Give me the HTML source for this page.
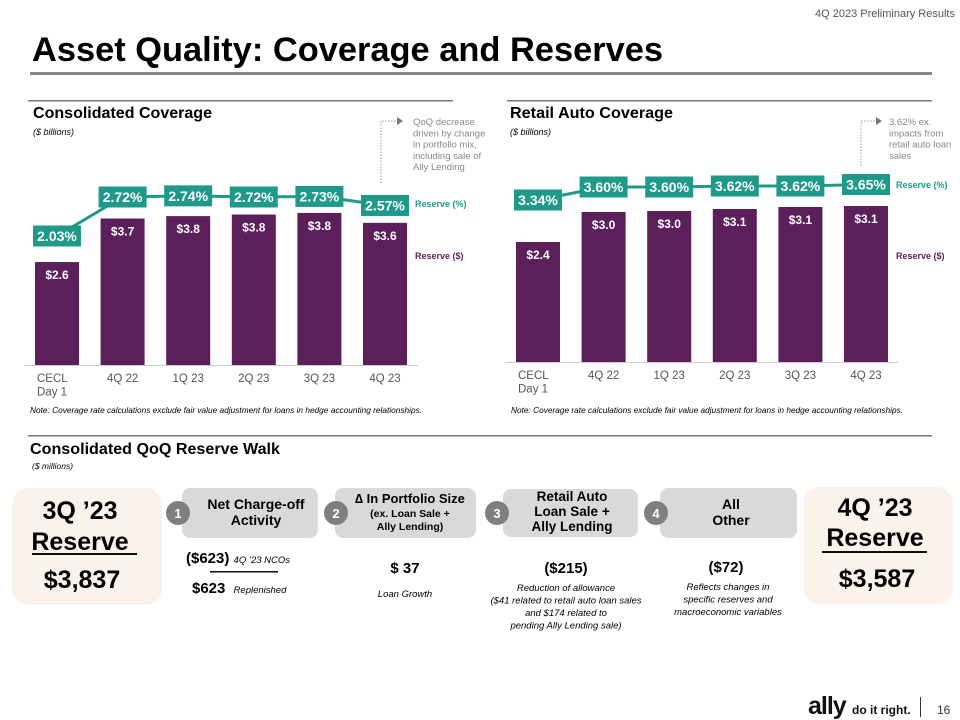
<!DOCTYPE html>
<html><head><meta charset="utf-8"><style>
body{margin:0;width:960px;height:720px;background:#fff;overflow:hidden;font-family:"Liberation Sans",sans-serif}
svg{display:block}
</style></head><body>
<svg width="960" height="720" viewBox="0 0 960 720" font-family="Liberation Sans, sans-serif">
<text x="955" y="17" font-size="11" fill="#555" text-anchor="end">4Q 2023 Preliminary Results</text>
<text x="32" y="61" font-size="34" font-weight="bold" fill="#000" textLength="631" lengthAdjust="spacingAndGlyphs">Asset Quality: Coverage and Reserves</text>
<rect x="30" y="72" width="902" height="3" fill="#888"/>
<rect x="28" y="100" width="425" height="1.5" fill="#777"/>
<rect x="507" y="100" width="425" height="1.5" fill="#777"/>
<text x="33" y="118" font-size="16" font-weight="bold" textLength="179" lengthAdjust="spacingAndGlyphs">Consolidated Coverage</text>
<text x="33" y="135" font-size="9" font-style="italic">($ billions)</text>
<text x="510" y="118" font-size="16" font-weight="bold" textLength="163" lengthAdjust="spacingAndGlyphs">Retail Auto Coverage</text>
<text x="510" y="135" font-size="9" font-style="italic">($ billions)</text>
<g id="annots" font-size="9.5" fill="#888">
<polyline points="381,183 381,121 397,121" fill="none" stroke="#999" stroke-dasharray="1.5,1.5"/>
<polygon points="397,117 403,121 397,125" fill="#777"/>
<text x="413" y="125"><tspan x="413">QoQ decrease</tspan><tspan x="413" dy="11.3">driven by change</tspan><tspan x="413" dy="11.3">in portfolio mix,</tspan><tspan x="413" dy="11.3">including sale of</tspan><tspan x="413" dy="11.3">Ally Lending</tspan></text>
<polyline points="861,166 861,121 876,121" fill="none" stroke="#999" stroke-dasharray="1.5,1.5"/>
<polygon points="876,117 882,121 876,125" fill="#777"/>
<text x="889" y="125"><tspan x="889">3.62% ex.</tspan><tspan x="889" dy="11.3">impacts from</tspan><tspan x="889" dy="11.3">retail auto loan</tspan><tspan x="889" dy="11.3">sales</tspan></text>
</g>
<text x="415" y="207" font-size="9" font-weight="bold" fill="#1f9a8a">Reserve (%)</text>
<text x="415" y="259" font-size="9" font-weight="bold" fill="#5b1f5b">Reserve ($)</text>
<text x="896" y="188" font-size="9" font-weight="bold" fill="#1f9a8a">Reserve (%)</text>
<text x="896" y="259" font-size="9" font-weight="bold" fill="#5b1f5b">Reserve ($)</text>
<g id="leftChart"></g>
<g id="rightChart"></g>
<text x="30" y="413" font-size="8.3" font-style="italic">Note: Coverage rate calculations exclude fair value adjustment for loans in hedge accounting relationships.</text>
<text x="511" y="413" font-size="8.3" font-style="italic">Note: Coverage rate calculations exclude fair value adjustment for loans in hedge accounting relationships.</text>

<rect x="28" y="435" width="904" height="1.5" fill="#777"/>
<text x="30" y="454" font-size="15.5" font-weight="bold" textLength="250" lengthAdjust="spacingAndGlyphs">Consolidated QoQ Reserve Walk</text>
<text x="32" y="469" font-size="8.5" font-style="italic">($ millions)</text>

<g>
<rect x="12" y="488" width="150" height="117" rx="16" fill="#faf3ec"/>
<text x="80" y="519" font-size="25" font-weight="bold" text-anchor="middle">3Q ’23</text>
<text x="80" y="550" font-size="25" font-weight="bold" text-anchor="middle">Reserve</text>
<rect x="32" y="553" width="105" height="2" fill="#111"/>
<text x="82" y="588" font-size="25" font-weight="bold" text-anchor="middle">$3,837</text>
</g>
<g>
<rect x="803" y="487" width="150" height="117" rx="16" fill="#faf3ec"/>
<text x="875" y="516" font-size="25" font-weight="bold" text-anchor="middle">4Q ’23</text>
<text x="875" y="546" font-size="25" font-weight="bold" text-anchor="middle">Reserve</text>
<rect x="822" y="551" width="105" height="2" fill="#111"/>
<text x="877" y="587" font-size="25" font-weight="bold" text-anchor="middle">$3,587</text>
</g>
<g font-weight="bold" text-anchor="middle">
<rect x="182" y="488" width="136" height="50" rx="8" fill="#d9d9d9"/>
<text x="256" y="509" font-size="14"><tspan x="256">Net Charge-off</tspan><tspan x="256" dy="16">Activity</tspan></text>
<rect x="335" y="488" width="141" height="50" rx="8" fill="#d9d9d9"/>
<text x="410" y="503" font-size="13"><tspan x="410">∆ In Portfolio Size</tspan><tspan x="410" dy="14" font-size="10.5">(ex. Loan Sale +</tspan><tspan x="410" dy="13" font-size="10.5">Ally Lending)</tspan></text>
<rect x="503" y="489" width="135" height="48" rx="8" fill="#d9d9d9"/>
<text x="572" y="501" font-size="13.5"><tspan x="572">Retail Auto</tspan><tspan x="572" dy="15">Loan Sale +</tspan><tspan x="572" dy="15">Ally Lending</tspan></text>
<rect x="660" y="488" width="137" height="50" rx="8" fill="#d9d9d9"/>
<text x="731" y="509" font-size="14"><tspan x="731">All</tspan><tspan x="731" dy="16">Other</tspan></text>
<g fill="#fff" font-size="13">
<circle cx="178" cy="513" r="12" fill="#7f7f7f"/><text x="178" y="518">1</text>
<circle cx="336" cy="513" r="12" fill="#7f7f7f"/><text x="336" y="518">2</text>
<circle cx="497" cy="513" r="12" fill="#7f7f7f"/><text x="497" y="518">3</text>
<circle cx="656" cy="513" r="12" fill="#7f7f7f"/><text x="656" y="518">4</text>
</g>
</g>
<g>
<text x="186" y="563" font-size="15" font-weight="bold">($623) <tspan font-size="9.5" font-weight="normal" font-style="italic">4Q ’23 NCOs</tspan></text>
<rect x="210" y="571" width="68" height="1.5" fill="#111"/>
<text x="192" y="593" font-size="15" font-weight="bold">$623 <tspan dx="4" font-size="9.5" font-weight="normal" font-style="italic">Replenished</tspan></text>
</g>
<g text-anchor="middle">
<text x="405" y="573" font-size="15" font-weight="bold">$ 37</text>
<text x="405" y="597" font-size="9.5" font-style="italic">Loan Growth</text>
<text x="566" y="573" font-size="15" font-weight="bold">($215)</text>
<text x="566" y="591" font-size="9.5" font-style="italic"><tspan x="566">Reduction of allowance</tspan><tspan x="566" dy="12.5">($41 related to retail auto loan sales</tspan><tspan x="566" dy="12.5">and $174 related to</tspan><tspan x="566" dy="12.5">pending Ally Lending sale)</tspan></text>
<text x="726" y="572" font-size="15" font-weight="bold">($72)</text>
<text x="728" y="590" font-size="9.5" font-style="italic"><tspan x="728">Reflects changes in</tspan><tspan x="728" dy="12.5">specific reserves and</tspan><tspan x="728" dy="12.5">macroeconomic variables</tspan></text>
</g>
<g>
<text x="808" y="714" font-size="25" font-weight="bold" fill="#111" letter-spacing="-1">ally</text>
<text x="852" y="714" font-size="12" font-weight="bold" fill="#111">do it right.</text>
<rect x="920" y="697" width="1" height="20" fill="#333"/>
<text x="937" y="714" font-size="12" fill="#333">16</text>
</g>
</svg>
<script>
const categories = ["CECL|Day 1","4Q 22","1Q 23","2Q 23","3Q 23","4Q 23"];
const consReserve = [2.6, 3.7, 3.76, 3.8, 3.84, 3.59];
const consReserveLabels = ["$2.6","$3.7","$3.8","$3.8","$3.8","$3.6"];
const consPct = [2.03, 2.72, 2.74, 2.72, 2.73, 2.57];
const autoReserve = [2.4, 3.0, 3.02, 3.06, 3.1, 3.12];
const autoReserveLabels = ["$2.4","$3.0","$3.0","$3.1","$3.1","$3.1"];
const autoPct = [3.34, 3.60, 3.60, 3.62, 3.62, 3.65];
const NS="http://www.w3.org/2000/svg";
function mk(t,a,p){const e=document.createElementNS(NS,t);for(const k in a)e.setAttribute(k,a[k]);p.appendChild(e);return e;}
function draw(g,prefix,x0,base,pxPerB,vals,labs,pcts,pctRef,pctY,pxPerPct,axisX1,axisX2){
  const step=65.6,bw=44;
  const xs=i=>x0+i*step;
  const yB=v=>base-v*pxPerB;
  const yP=v=>pctY-(v-pctRef)*pxPerPct;
  const ax=mk('line',{x1:axisX1,x2:axisX2,y1:base+0.5,y2:base+0.5,stroke:'#ccc','stroke-width':1},g);
  
  
  vals.forEach((v,i)=>{
    const r=mk('rect',{x:xs(i),y:yB(v),width:bw,height:base-yB(v),fill:'#5b1f5b'},g);
    
    
    const t=mk('text',{x:xs(i)+bw/2,y:yB(v)+17,'font-size':12,'font-weight':'bold',fill:'#fff','text-anchor':'middle'},g);
    t.textContent=labs[i];
    
    
    const parts=categories[i].split('|');
    const c=mk('text',{x:xs(i)+bw/2,y:base+17,'font-size':11.5,fill:'#555','text-anchor':'middle'},g);
    
    
    parts.forEach((p,j)=>{const s=mk('tspan',{x:parts.length>1?xs(i)+2:xs(i)+bw/2,dy:j?13.5:0},c);s.textContent=p;});
    if(parts.length>1)c.setAttribute('text-anchor','start');
  });
  const pts=pcts.map((p,i)=>(xs(i)+bw/2)+','+yP(p)).join(' ');
  const pl=mk('polyline',{points:pts,fill:'none',stroke:'#1f9a8a','stroke-width':3},g);
  
  
  pcts.forEach((p,i)=>{
    const b=mk('rect',{x:xs(i)+bw/2-24,y:yP(p)-10.5,width:48,height:21,fill:'#1f9a8a'},g);
    
    
    const t=mk('text',{x:xs(i)+bw/2,y:yP(p)+5,'font-size':14,'font-weight':'bold',fill:'#fff','text-anchor':'middle'},g);
    t.textContent=p.toFixed(2)+'%';
    
    
  });
}
draw(document.getElementById('leftChart'),'cons',35,365,39.6,consReserve,consReserveLabels,consPct,2.72,197,56.5,24,418);
draw(document.getElementById('rightChart'),'auto',516,362,50,autoReserve,autoReserveLabels,autoPct,3.60,187,50,505,898);
</script>
</body></html>
